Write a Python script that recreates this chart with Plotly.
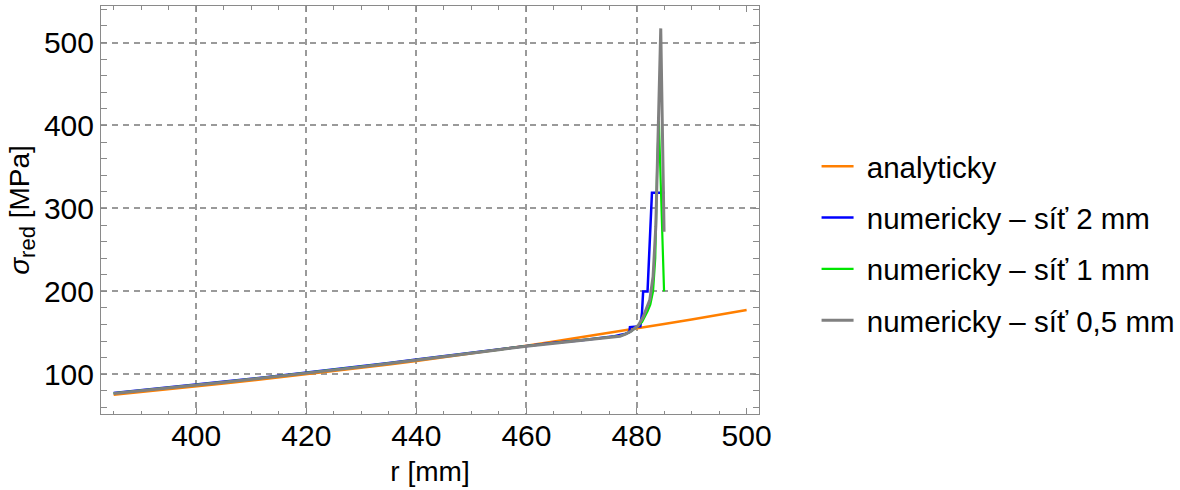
import plotly.graph_objects as go

# Analytical solution: reduced stress along the radius
r_analytic = [385, 390, 395, 400, 405, 410, 415, 420, 425, 430, 435, 440,
              445, 450, 455, 460, 465, 470, 475, 480, 485, 490, 495, 500]
s_analytic = [75.5, 78.7, 82.0, 85.5, 89.0, 92.6, 96.3, 100.0, 103.9, 107.9,
              111.9, 116.0, 120.5, 125.0, 129.7, 134.5, 139.5, 144.6, 149.8,
              155.2, 160.7, 166.2, 171.8, 177.5]

# Numerical results, mesh 2 mm
r_mesh2 = [385, 390, 395, 400, 405, 410, 415, 420, 425, 430, 435, 440, 445,
           450, 455, 460, 465, 470, 474, 476, 478, 478.7, 478.8, 480.7, 481.0,
           481.2, 482.0, 482.3, 482.6, 482.8, 485.1]
s_mesh2 = [77.5, 80.8, 84.1, 87.6, 91.1, 94.7, 98.3, 102.0, 105.8, 109.7,
           113.7, 117.8, 121.9, 126.1, 130.4, 134.6, 138.2, 141.2, 143.8, 146.0,
           149.0, 151.0, 157.0, 158.0, 175.0, 200.0, 200.0, 240.0, 295.0, 319.0,
           319.0]

# Numerical results, mesh 1 mm
r_mesh1 = [385, 390, 395, 400, 405, 410, 415, 420, 425, 430, 435, 440, 445,
           450, 455, 460, 465, 470, 474, 477, 478, 479, 480, 481, 482, 482.5,
           483.0, 483.4, 483.75, 484.05, 485.0]
s_mesh1 = [77.2, 80.4, 83.7, 87.1, 90.6, 94.2, 97.8, 101.5, 105.3, 109.2,
           113.2, 117.2, 121.4, 125.6, 129.9, 134.2, 137.8, 140.8, 143.4, 146.2,
           148.6, 152.0, 157.0, 163.0, 176.0, 184.0, 200.0, 240.0, 350.0, 406.0,
           200.0]

# Numerical results, mesh 0.5 mm
r_mesh05 = [385, 390, 395, 400, 405, 410, 415, 420, 425, 430, 435, 440, 445,
            450, 455, 460, 465, 470, 474, 477, 478, 479, 480.3, 481.2, 482.4,
            483.0, 483.5, 483.9, 484.2, 484.4, 485.0]
s_mesh05 = [77.0, 80.2, 83.5, 86.9, 90.4, 94.0, 97.6, 101.3, 105.1, 109.0,
            113.0, 117.0, 121.2, 125.4, 129.7, 134.0, 137.6, 140.6, 143.2, 146.0,
            148.5, 152.0, 159.0, 169.0, 189.5, 217.6, 278.0, 378.0, 458.0, 517.0,
            272.0]

X_RANGE = [382.7, 502.25]
Y_RANGE = [52.2, 544.0]
X_TICKS = [400, 420, 440, 460, 480, 500]
X_GRID = [400, 420, 440, 460, 480]
Y_TICKS = [100, 200, 300, 400, 500]

FONT = "Liberation Sans, Arial, sans-serif"
FRAME = "#8a8a8a"
GRID = "#9a9a9a"
PAD = "\u00a0"  # gap between legend swatch and label

series = [
    ("analyticky", r_analytic, s_analytic, "#ff7f00", 2.5),
    ("numericky – síť 2 mm", r_mesh2, s_mesh2, "#0000ff", 2.5),
    ("numericky – síť 1 mm", r_mesh1, s_mesh1, "#00e600", 2.2),
    ("numericky – síť 0,5 mm", r_mesh05, s_mesh05, "#808080", 3.0),
]

fig = go.Figure()
for name, xs, ys, color, width in series:
    fig.add_trace(go.Scatter(
        x=xs, y=ys, mode="lines", name=PAD + name, legendgroup=name,
        line=dict(color=color, width=width),
    ))

# Hidden helper trace carrying the grid-only x axis
fig.add_trace(go.Scatter(x=[X_RANGE[0]], y=[Y_RANGE[0]], xaxis="x2",
                         mode="markers", marker=dict(opacity=0),
                         showlegend=False, hoverinfo="skip"))

fig.update_layout(
    width=1180, height=490,
    margin=dict(l=101, r=421, t=6, b=76, autoexpand=False),
    paper_bgcolor="white", plot_bgcolor="white",
    font=dict(family=FONT, size=30, color="black"),
    showlegend=True,
    legend=dict(
        xref="container", yref="container",
        x=0.692, y=0.503, xanchor="left", yanchor="middle",
        font=dict(family=FONT, size=29.5, color="black"),
        tracegroupgap=10, itemwidth=32,
        bgcolor="rgba(0,0,0,0)",
    ),
    xaxis=dict(
        range=X_RANGE, tickvals=X_TICKS, ticks="inside", ticklen=6,
        tickcolor=FRAME, tickwidth=1,
        minor=dict(dtick=5, tick0=0, ticks="inside", ticklen=3.5,
                   tickcolor=FRAME, showgrid=False),
        showline=True, linecolor=FRAME, linewidth=1, mirror="allticks",
        showgrid=False, zeroline=False, automargin=False,
        ticklabelstandoff=-5,
        tickfont=dict(family=FONT, size=30, color="black"),
        title=dict(text="r [mm]", standoff=10,
                   font=dict(family=FONT, size=28, color="black")),
    ),
    xaxis2=dict(
        range=X_RANGE, overlaying="x", tickvals=X_GRID,
        showticklabels=False, ticks="", showline=False, automargin=False,
        showgrid=True, gridcolor=GRID, gridwidth=1.5, griddash="6px,5px",
        zeroline=False,
    ),
    yaxis=dict(
        range=Y_RANGE, tickvals=Y_TICKS, ticks="inside", ticklen=6,
        tickcolor=FRAME, tickwidth=1,
        minor=dict(dtick=20, tick0=0, ticks="inside", ticklen=3.5,
                   tickcolor=FRAME, showgrid=False),
        showline=True, linecolor=FRAME, linewidth=1, mirror="allticks",
        showgrid=True, gridcolor=GRID, gridwidth=1.5, griddash="6px,5px",
        zeroline=False, automargin=False,
        ticklabelstandoff=0,
        tickfont=dict(family=FONT, size=30, color="black"),
        title=dict(
            text="<i>σ</i><sub><span style='font-size:22px'>red</span></sub> [MPa]",
            standoff=6,
            font=dict(family=FONT, size=28, color="black")),
    ),
)

fig.write_html("out.html")
